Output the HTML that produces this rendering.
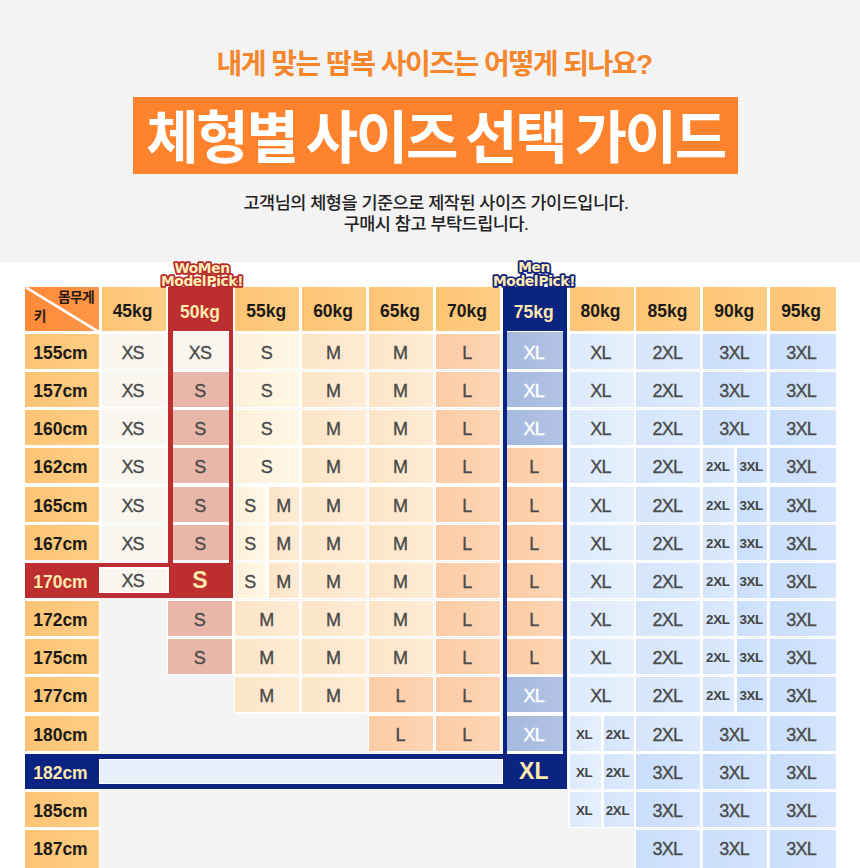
<!DOCTYPE html>
<html lang="ko"><head><meta charset="utf-8"><title>체형별 사이즈 선택 가이드</title>
<style>
html,body{margin:0;padding:0}
body{width:860px;height:868px;overflow:hidden;background:#fff;position:relative;font-family:"Liberation Sans","Noto Sans CJK KR",sans-serif;color:#222}
.top{position:absolute;left:0;top:0;width:860px;height:262px;background:#f3f3f3}
.sub{position:absolute;left:0;top:45px;width:868px;text-align:center;font-size:28px;line-height:40px;font-weight:700;color:#f6862c;letter-spacing:-1.5px}
.ban{position:absolute;left:133px;top:97px;width:605px;height:76.5px;background:#ff832c}
.ttl{position:absolute;left:133px;top:97px;width:605px;height:76.5px;line-height:82px;text-align:center;font-size:57px;font-weight:700;color:#fff;letter-spacing:-2.3px;word-spacing:-4.5px;white-space:nowrap}
.desc{position:absolute;left:0;top:192.5px;width:872px;text-align:center;font-size:17.5px;font-weight:500;line-height:21px;color:#222;letter-spacing:-0.5px}
.c{position:absolute;text-align:center;font-size:18px;letter-spacing:-0.8px;color:#4a4a4a;-webkit-text-stroke:0.35px #4a4a4a;text-indent:-2px;white-space:nowrap;overflow:hidden;box-sizing:border-box}
.gbg{position:absolute;background:#f4f4f4}
.wb{background:#fff}
.h,.lab{background:linear-gradient(90deg,#fdc474,#fecd84);font-weight:700;color:#1c1a18;font-size:17.5px;letter-spacing:0;-webkit-text-stroke:0}
.lab{text-align:left;text-indent:8px}
.corner{position:absolute;background:linear-gradient(90deg,#ff8a38,#ff9648);overflow:hidden}
.corner span{position:absolute;font-weight:700;font-size:13.8px;color:#2a1a10;line-height:14px;letter-spacing:-0.7px}
.cw{right:5px;top:4px} .ch{left:8.5px;top:23.5px}
.xs{background:#f8f6ee}
.sp{background:#e9b6aa}
.s{background:linear-gradient(90deg,#fdf0d9,#fff8e6)}
.m{background:linear-gradient(90deg,#fde4c6,#feecd6)}
.l{background:linear-gradient(90deg,#fdcca5,#fed5b4)}
.xb{background:linear-gradient(90deg,#a5b8df,#b2c3e4);color:#fff;-webkit-text-stroke:0.35px #fff}
.xl{background:linear-gradient(90deg,#dde9fc,#e6f0fd)}
.x2{background:linear-gradient(90deg,#d6e5fc,#ddeafd)}
.x3{background:linear-gradient(90deg,#cadefb,#d4e5fc)}
.sm{font-size:13.3px;font-weight:700;color:#444;letter-spacing:-0.3px;-webkit-text-stroke:0}
.s.sm,.m.sm{font-size:18px;font-weight:400;color:#4a4a4a;letter-spacing:-0.8px;-webkit-text-stroke:0.35px #4a4a4a}
.rf{position:absolute;background:#bd2e30}
.rin{position:absolute;background:#fff}
.rhead,.rlab,.rS,.bhead,.blab,.bX{position:absolute;overflow:hidden;text-indent:-2px;text-align:center;font-weight:700;font-size:17.5px;color:#ffe9ad}
.rrow{position:absolute;background:#bd2e30}
.rlab,.blab{text-align:left;text-indent:8px}
.rS,.bX{font-size:23px}
.bf{position:absolute;background:#0b2381}
.bin{position:absolute;background:#fff}
.brow{position:absolute;background:#0b2381}
.bbox{position:absolute;background:#e8f0fc;border:1.5px solid #fff;box-sizing:border-box}
.badge{position:absolute;text-align:center;font-family:'DejaVu Sans','Liberation Sans',sans-serif;font-weight:700;font-size:13.8px;line-height:12.3px;letter-spacing:-0.4px;word-spacing:-4px;color:#ffedb4;white-space:nowrap}
.bdg{position:absolute;overflow:visible}
</style></head><body>
<div class="top"></div>
<div class="sub">내게 맞는 땀복 사이즈는 어떻게 되나요?</div>
<div class="ban"></div>
<div class="ttl">체형별 사이즈 선택 가이드</div>
<div class="desc">고객님의 체형을 기준으로 제작된 사이즈 가이드입니다.<br>구매시 참고 부탁드립니다.</div>
<div class="gbg" style="left:100.3px;top:332.5px;width:737.2px;height:540px"></div>
<div class="corner" style="left:25.2px;top:286.5px;width:73.8px;height:44.5px">
<svg width="73.8" height="44.5" viewBox="0 0 73.8 44.5" style="position:absolute;left:0;top:0"><line x1="1" y1="0.5" x2="73.8" y2="45" stroke="#fff" stroke-width="2.6"/></svg>
<span class="cw">몸무게</span><span class="ch">키</span></div>
<div class="c h" style="left:101.6px;top:286.5px;width:64.0px;height:44.5px;line-height:48.5px;">45kg</div>
<div class="c h" style="left:235.3px;top:286.5px;width:64.0px;height:44.5px;line-height:48.5px;">55kg</div>
<div class="c h" style="left:302.1px;top:286.5px;width:64.0px;height:44.5px;line-height:48.5px;">60kg</div>
<div class="c h" style="left:369.0px;top:286.5px;width:64.0px;height:44.5px;line-height:48.5px;">65kg</div>
<div class="c h" style="left:435.9px;top:286.5px;width:64.0px;height:44.5px;line-height:48.5px;">70kg</div>
<div class="c h" style="left:569.5px;top:286.5px;width:64.0px;height:44.5px;line-height:48.5px;">80kg</div>
<div class="c h" style="left:636.4px;top:286.5px;width:64.0px;height:44.5px;line-height:48.5px;">85kg</div>
<div class="c h" style="left:703.2px;top:286.5px;width:64.0px;height:44.5px;line-height:48.5px;">90kg</div>
<div class="c h" style="left:770.1px;top:286.5px;width:66.1px;height:44.5px;line-height:48.5px;padding-right:2.1px;">95kg</div>
<div class="c lab" style="left:25.2px;top:334.0px;width:73.8px;height:35.0px;line-height:39.0px;">155cm</div>
<div class="c lab" style="left:25.2px;top:372.1px;width:73.8px;height:35.0px;line-height:39.0px;">157cm</div>
<div class="c lab" style="left:25.2px;top:410.3px;width:73.8px;height:35.0px;line-height:39.0px;">160cm</div>
<div class="c lab" style="left:25.2px;top:448.4px;width:73.8px;height:35.0px;line-height:39.0px;">162cm</div>
<div class="c lab" style="left:25.2px;top:486.6px;width:73.8px;height:35.0px;line-height:39.0px;">165cm</div>
<div class="c lab" style="left:25.2px;top:524.8px;width:73.8px;height:35.0px;line-height:39.0px;">167cm</div>
<div class="c lab" style="left:25.2px;top:601.0px;width:73.8px;height:35.0px;line-height:39.0px;">172cm</div>
<div class="c lab" style="left:25.2px;top:639.2px;width:73.8px;height:35.0px;line-height:39.0px;">175cm</div>
<div class="c lab" style="left:25.2px;top:677.3px;width:73.8px;height:35.0px;line-height:39.0px;">177cm</div>
<div class="c lab" style="left:25.2px;top:715.5px;width:73.8px;height:35.0px;line-height:39.0px;">180cm</div>
<div class="c lab" style="left:25.2px;top:791.8px;width:73.8px;height:35.0px;line-height:39.0px;">185cm</div>
<div class="c lab" style="left:25.2px;top:830.0px;width:73.8px;height:41.0px;line-height:39.0px;">187cm</div>
<div class="rf" style="left:168.4px;top:286.5px;width:65px;height:311.5px"></div>
<div class="rhead" style="left:168.4px;top:286.5px;width:65px;height:44.5px;line-height:50.5px">50kg</div>
<div class="rin" style="left:172.7px;top:331px;width:56.5px;height:232px"></div>
<div class="rrow" style="left:25.2px;top:562.9px;width:208.1px;height:35.1px"></div>
<div class="rlab" style="left:25.2px;top:562.9px;width:73.8px;height:35.1px;line-height:39.1px">170cm</div>
<div class="c wb" style="left:98.6px;top:567.4px;width:70.4px;height:25.8px"></div>
<div class="c xs" style="left:100.1px;top:568.9px;width:67.4px;height:22.8px;line-height:24.6px">XS</div>
<div class="rS" style="left:169px;top:562.9px;width:64px;height:35.1px;line-height:35.1px">S</div>
<div class="bf" style="left:502.6px;top:286.5px;width:64.4px;height:502.5px"></div>
<div class="bhead" style="left:502.6px;top:286.5px;width:64.4px;height:44.5px;line-height:50.5px">75kg</div>
<div class="bin" style="left:506.8px;top:331px;width:56px;height:422.6px"></div>
<div class="brow" style="left:25.2px;top:753.6px;width:541.8px;height:35.4px"></div>
<div class="blab" style="left:25.2px;top:753.6px;width:73.8px;height:35.4px;line-height:39.4px">182cm</div>
<div class="bbox" style="left:98.6px;top:758.8px;width:404.2px;height:25.4px"></div>
<div class="bX" style="left:502.6px;top:753.6px;width:64.4px;height:35.4px;line-height:35.4px">XL</div>
<div class="c wb" style="left:100.3px;top:332.7px;width:66.6px;height:37.6px;line-height:37.6px;"></div>
<div class="c xs" style="left:101.6px;top:334.0px;width:64.0px;height:35.0px;line-height:38.8px;">XS</div>
<div class="c xs" style="left:172.7px;top:332.0px;width:56.5px;height:37.0px;line-height:42.8px;">XS</div>
<div class="c wb" style="left:234.0px;top:332.7px;width:66.6px;height:37.6px;line-height:37.6px;"></div>
<div class="c s" style="left:235.3px;top:334.0px;width:64.0px;height:35.0px;line-height:38.8px;">S</div>
<div class="c wb" style="left:300.8px;top:332.7px;width:66.6px;height:37.6px;line-height:37.6px;"></div>
<div class="c m" style="left:302.1px;top:334.0px;width:64.0px;height:35.0px;line-height:38.8px;">M</div>
<div class="c wb" style="left:367.7px;top:332.7px;width:66.6px;height:37.6px;line-height:37.6px;"></div>
<div class="c m" style="left:369.0px;top:334.0px;width:64.0px;height:35.0px;line-height:38.8px;">M</div>
<div class="c wb" style="left:434.6px;top:332.7px;width:66.6px;height:37.6px;line-height:37.6px;"></div>
<div class="c l" style="left:435.9px;top:334.0px;width:64.0px;height:35.0px;line-height:38.8px;">L</div>
<div class="c xb" style="left:506.8px;top:332.0px;width:56.0px;height:37.0px;line-height:42.8px;">XL</div>
<div class="c wb" style="left:568.2px;top:332.7px;width:66.6px;height:37.6px;line-height:37.6px;"></div>
<div class="c xl" style="left:569.5px;top:334.0px;width:64.0px;height:35.0px;line-height:38.8px;">XL</div>
<div class="c wb" style="left:635.1px;top:332.7px;width:66.6px;height:37.6px;line-height:37.6px;"></div>
<div class="c x2" style="left:636.4px;top:334.0px;width:64.0px;height:35.0px;line-height:38.8px;">2XL</div>
<div class="c wb" style="left:702.0px;top:332.7px;width:66.6px;height:37.6px;line-height:37.6px;"></div>
<div class="c x3" style="left:703.2px;top:334.0px;width:64.0px;height:35.0px;line-height:38.8px;">3XL</div>
<div class="c wb" style="left:768.8px;top:332.7px;width:68.7px;height:37.6px;line-height:37.6px;"></div>
<div class="c x3" style="left:770.1px;top:334.0px;width:66.1px;height:35.0px;line-height:38.8px;padding-right:2.1px;">3XL</div>
<div class="c wb" style="left:100.3px;top:370.8px;width:66.6px;height:37.6px;line-height:37.6px;"></div>
<div class="c xs" style="left:101.6px;top:372.1px;width:64.0px;height:35.0px;line-height:38.8px;">XS</div>
<div class="c sp" style="left:172.7px;top:372.1px;width:56.5px;height:35.0px;line-height:38.8px;">S</div>
<div class="c wb" style="left:234.0px;top:370.8px;width:66.6px;height:37.6px;line-height:37.6px;"></div>
<div class="c s" style="left:235.3px;top:372.1px;width:64.0px;height:35.0px;line-height:38.8px;">S</div>
<div class="c wb" style="left:300.8px;top:370.8px;width:66.6px;height:37.6px;line-height:37.6px;"></div>
<div class="c m" style="left:302.1px;top:372.1px;width:64.0px;height:35.0px;line-height:38.8px;">M</div>
<div class="c wb" style="left:367.7px;top:370.8px;width:66.6px;height:37.6px;line-height:37.6px;"></div>
<div class="c m" style="left:369.0px;top:372.1px;width:64.0px;height:35.0px;line-height:38.8px;">M</div>
<div class="c wb" style="left:434.6px;top:370.8px;width:66.6px;height:37.6px;line-height:37.6px;"></div>
<div class="c l" style="left:435.9px;top:372.1px;width:64.0px;height:35.0px;line-height:38.8px;">L</div>
<div class="c xb" style="left:506.8px;top:372.1px;width:56.0px;height:35.0px;line-height:38.8px;">XL</div>
<div class="c wb" style="left:568.2px;top:370.8px;width:66.6px;height:37.6px;line-height:37.6px;"></div>
<div class="c xl" style="left:569.5px;top:372.1px;width:64.0px;height:35.0px;line-height:38.8px;">XL</div>
<div class="c wb" style="left:635.1px;top:370.8px;width:66.6px;height:37.6px;line-height:37.6px;"></div>
<div class="c x2" style="left:636.4px;top:372.1px;width:64.0px;height:35.0px;line-height:38.8px;">2XL</div>
<div class="c wb" style="left:702.0px;top:370.8px;width:66.6px;height:37.6px;line-height:37.6px;"></div>
<div class="c x3" style="left:703.2px;top:372.1px;width:64.0px;height:35.0px;line-height:38.8px;">3XL</div>
<div class="c wb" style="left:768.8px;top:370.8px;width:68.7px;height:37.6px;line-height:37.6px;"></div>
<div class="c x3" style="left:770.1px;top:372.1px;width:66.1px;height:35.0px;line-height:38.8px;padding-right:2.1px;">3XL</div>
<div class="c wb" style="left:100.3px;top:409.0px;width:66.6px;height:37.6px;line-height:37.6px;"></div>
<div class="c xs" style="left:101.6px;top:410.3px;width:64.0px;height:35.0px;line-height:38.8px;">XS</div>
<div class="c sp" style="left:172.7px;top:410.3px;width:56.5px;height:35.0px;line-height:38.8px;">S</div>
<div class="c wb" style="left:234.0px;top:409.0px;width:66.6px;height:37.6px;line-height:37.6px;"></div>
<div class="c s" style="left:235.3px;top:410.3px;width:64.0px;height:35.0px;line-height:38.8px;">S</div>
<div class="c wb" style="left:300.8px;top:409.0px;width:66.6px;height:37.6px;line-height:37.6px;"></div>
<div class="c m" style="left:302.1px;top:410.3px;width:64.0px;height:35.0px;line-height:38.8px;">M</div>
<div class="c wb" style="left:367.7px;top:409.0px;width:66.6px;height:37.6px;line-height:37.6px;"></div>
<div class="c m" style="left:369.0px;top:410.3px;width:64.0px;height:35.0px;line-height:38.8px;">M</div>
<div class="c wb" style="left:434.6px;top:409.0px;width:66.6px;height:37.6px;line-height:37.6px;"></div>
<div class="c l" style="left:435.9px;top:410.3px;width:64.0px;height:35.0px;line-height:38.8px;">L</div>
<div class="c xb" style="left:506.8px;top:410.3px;width:56.0px;height:35.0px;line-height:38.8px;">XL</div>
<div class="c wb" style="left:568.2px;top:409.0px;width:66.6px;height:37.6px;line-height:37.6px;"></div>
<div class="c xl" style="left:569.5px;top:410.3px;width:64.0px;height:35.0px;line-height:38.8px;">XL</div>
<div class="c wb" style="left:635.1px;top:409.0px;width:66.6px;height:37.6px;line-height:37.6px;"></div>
<div class="c x2" style="left:636.4px;top:410.3px;width:64.0px;height:35.0px;line-height:38.8px;">2XL</div>
<div class="c wb" style="left:702.0px;top:409.0px;width:66.6px;height:37.6px;line-height:37.6px;"></div>
<div class="c x3" style="left:703.2px;top:410.3px;width:64.0px;height:35.0px;line-height:38.8px;">3XL</div>
<div class="c wb" style="left:768.8px;top:409.0px;width:68.7px;height:37.6px;line-height:37.6px;"></div>
<div class="c x3" style="left:770.1px;top:410.3px;width:66.1px;height:35.0px;line-height:38.8px;padding-right:2.1px;">3XL</div>
<div class="c wb" style="left:100.3px;top:447.1px;width:66.6px;height:37.6px;line-height:37.6px;"></div>
<div class="c xs" style="left:101.6px;top:448.4px;width:64.0px;height:35.0px;line-height:38.8px;">XS</div>
<div class="c sp" style="left:172.7px;top:448.4px;width:56.5px;height:35.0px;line-height:38.8px;">S</div>
<div class="c wb" style="left:234.0px;top:447.1px;width:66.6px;height:37.6px;line-height:37.6px;"></div>
<div class="c s" style="left:235.3px;top:448.4px;width:64.0px;height:35.0px;line-height:38.8px;">S</div>
<div class="c wb" style="left:300.8px;top:447.1px;width:66.6px;height:37.6px;line-height:37.6px;"></div>
<div class="c m" style="left:302.1px;top:448.4px;width:64.0px;height:35.0px;line-height:38.8px;">M</div>
<div class="c wb" style="left:367.7px;top:447.1px;width:66.6px;height:37.6px;line-height:37.6px;"></div>
<div class="c m" style="left:369.0px;top:448.4px;width:64.0px;height:35.0px;line-height:38.8px;">M</div>
<div class="c wb" style="left:434.6px;top:447.1px;width:66.6px;height:37.6px;line-height:37.6px;"></div>
<div class="c l" style="left:435.9px;top:448.4px;width:64.0px;height:35.0px;line-height:38.8px;">L</div>
<div class="c l" style="left:506.8px;top:448.4px;width:56.0px;height:35.0px;line-height:38.8px;">L</div>
<div class="c wb" style="left:568.2px;top:447.1px;width:66.6px;height:37.6px;line-height:37.6px;"></div>
<div class="c xl" style="left:569.5px;top:448.4px;width:64.0px;height:35.0px;line-height:38.8px;">XL</div>
<div class="c wb" style="left:635.1px;top:447.1px;width:66.6px;height:37.6px;line-height:37.6px;"></div>
<div class="c x2" style="left:636.4px;top:448.4px;width:64.0px;height:35.0px;line-height:38.8px;">2XL</div>
<div class="c wb" style="left:702.0px;top:447.1px;width:33.8px;height:37.6px;line-height:37.6px;"></div>
<div class="c wb" style="left:736.0px;top:447.1px;width:32.6px;height:37.6px;line-height:37.6px;"></div>
<div class="c x2 sm" style="left:703.2px;top:448.4px;width:31.2px;height:35.0px;line-height:38.8px;">2XL</div>
<div class="c x3 sm" style="left:737.2px;top:448.4px;width:30.0px;height:35.0px;line-height:38.8px;">3XL</div>
<div class="c wb" style="left:768.8px;top:447.1px;width:68.7px;height:37.6px;line-height:37.6px;"></div>
<div class="c x3" style="left:770.1px;top:448.4px;width:66.1px;height:35.0px;line-height:38.8px;padding-right:2.1px;">3XL</div>
<div class="c wb" style="left:100.3px;top:485.3px;width:66.6px;height:37.6px;line-height:37.6px;"></div>
<div class="c xs" style="left:101.6px;top:486.6px;width:64.0px;height:35.0px;line-height:38.8px;">XS</div>
<div class="c sp" style="left:172.7px;top:486.6px;width:56.5px;height:35.0px;line-height:38.8px;">S</div>
<div class="c wb" style="left:234.0px;top:485.3px;width:33.8px;height:37.6px;line-height:37.6px;"></div>
<div class="c wb" style="left:268.0px;top:485.3px;width:32.6px;height:37.6px;line-height:37.6px;"></div>
<div class="c s sm" style="left:235.3px;top:486.6px;width:31.2px;height:35.0px;line-height:38.8px;">S</div>
<div class="c m sm" style="left:269.3px;top:486.6px;width:30.0px;height:35.0px;line-height:38.8px;">M</div>
<div class="c wb" style="left:300.8px;top:485.3px;width:66.6px;height:37.6px;line-height:37.6px;"></div>
<div class="c m" style="left:302.1px;top:486.6px;width:64.0px;height:35.0px;line-height:38.8px;">M</div>
<div class="c wb" style="left:367.7px;top:485.3px;width:66.6px;height:37.6px;line-height:37.6px;"></div>
<div class="c m" style="left:369.0px;top:486.6px;width:64.0px;height:35.0px;line-height:38.8px;">M</div>
<div class="c wb" style="left:434.6px;top:485.3px;width:66.6px;height:37.6px;line-height:37.6px;"></div>
<div class="c l" style="left:435.9px;top:486.6px;width:64.0px;height:35.0px;line-height:38.8px;">L</div>
<div class="c l" style="left:506.8px;top:486.6px;width:56.0px;height:35.0px;line-height:38.8px;">L</div>
<div class="c wb" style="left:568.2px;top:485.3px;width:66.6px;height:37.6px;line-height:37.6px;"></div>
<div class="c xl" style="left:569.5px;top:486.6px;width:64.0px;height:35.0px;line-height:38.8px;">XL</div>
<div class="c wb" style="left:635.1px;top:485.3px;width:66.6px;height:37.6px;line-height:37.6px;"></div>
<div class="c x2" style="left:636.4px;top:486.6px;width:64.0px;height:35.0px;line-height:38.8px;">2XL</div>
<div class="c wb" style="left:702.0px;top:485.3px;width:33.8px;height:37.6px;line-height:37.6px;"></div>
<div class="c wb" style="left:736.0px;top:485.3px;width:32.6px;height:37.6px;line-height:37.6px;"></div>
<div class="c x2 sm" style="left:703.2px;top:486.6px;width:31.2px;height:35.0px;line-height:38.8px;">2XL</div>
<div class="c x3 sm" style="left:737.2px;top:486.6px;width:30.0px;height:35.0px;line-height:38.8px;">3XL</div>
<div class="c wb" style="left:768.8px;top:485.3px;width:68.7px;height:37.6px;line-height:37.6px;"></div>
<div class="c x3" style="left:770.1px;top:486.6px;width:66.1px;height:35.0px;line-height:38.8px;padding-right:2.1px;">3XL</div>
<div class="c wb" style="left:100.3px;top:523.5px;width:66.6px;height:37.6px;line-height:37.6px;"></div>
<div class="c xs" style="left:101.6px;top:524.8px;width:64.0px;height:35.0px;line-height:38.8px;">XS</div>
<div class="c sp" style="left:172.7px;top:524.8px;width:56.5px;height:35.0px;line-height:38.8px;">S</div>
<div class="c wb" style="left:234.0px;top:523.5px;width:33.8px;height:37.6px;line-height:37.6px;"></div>
<div class="c wb" style="left:268.0px;top:523.5px;width:32.6px;height:37.6px;line-height:37.6px;"></div>
<div class="c s sm" style="left:235.3px;top:524.8px;width:31.2px;height:35.0px;line-height:38.8px;">S</div>
<div class="c m sm" style="left:269.3px;top:524.8px;width:30.0px;height:35.0px;line-height:38.8px;">M</div>
<div class="c wb" style="left:300.8px;top:523.5px;width:66.6px;height:37.6px;line-height:37.6px;"></div>
<div class="c m" style="left:302.1px;top:524.8px;width:64.0px;height:35.0px;line-height:38.8px;">M</div>
<div class="c wb" style="left:367.7px;top:523.5px;width:66.6px;height:37.6px;line-height:37.6px;"></div>
<div class="c m" style="left:369.0px;top:524.8px;width:64.0px;height:35.0px;line-height:38.8px;">M</div>
<div class="c wb" style="left:434.6px;top:523.5px;width:66.6px;height:37.6px;line-height:37.6px;"></div>
<div class="c l" style="left:435.9px;top:524.8px;width:64.0px;height:35.0px;line-height:38.8px;">L</div>
<div class="c l" style="left:506.8px;top:524.8px;width:56.0px;height:35.0px;line-height:38.8px;">L</div>
<div class="c wb" style="left:568.2px;top:523.5px;width:66.6px;height:37.6px;line-height:37.6px;"></div>
<div class="c xl" style="left:569.5px;top:524.8px;width:64.0px;height:35.0px;line-height:38.8px;">XL</div>
<div class="c wb" style="left:635.1px;top:523.5px;width:66.6px;height:37.6px;line-height:37.6px;"></div>
<div class="c x2" style="left:636.4px;top:524.8px;width:64.0px;height:35.0px;line-height:38.8px;">2XL</div>
<div class="c wb" style="left:702.0px;top:523.5px;width:33.8px;height:37.6px;line-height:37.6px;"></div>
<div class="c wb" style="left:736.0px;top:523.5px;width:32.6px;height:37.6px;line-height:37.6px;"></div>
<div class="c x2 sm" style="left:703.2px;top:524.8px;width:31.2px;height:35.0px;line-height:38.8px;">2XL</div>
<div class="c x3 sm" style="left:737.2px;top:524.8px;width:30.0px;height:35.0px;line-height:38.8px;">3XL</div>
<div class="c wb" style="left:768.8px;top:523.5px;width:68.7px;height:37.6px;line-height:37.6px;"></div>
<div class="c x3" style="left:770.1px;top:524.8px;width:66.1px;height:35.0px;line-height:38.8px;padding-right:2.1px;">3XL</div>
<div class="c wb" style="left:234.0px;top:561.6px;width:33.8px;height:37.6px;line-height:37.6px;"></div>
<div class="c wb" style="left:268.0px;top:561.6px;width:32.6px;height:37.6px;line-height:37.6px;"></div>
<div class="c s sm" style="left:235.3px;top:562.9px;width:31.2px;height:35.0px;line-height:38.8px;">S</div>
<div class="c m sm" style="left:269.3px;top:562.9px;width:30.0px;height:35.0px;line-height:38.8px;">M</div>
<div class="c wb" style="left:300.8px;top:561.6px;width:66.6px;height:37.6px;line-height:37.6px;"></div>
<div class="c m" style="left:302.1px;top:562.9px;width:64.0px;height:35.0px;line-height:38.8px;">M</div>
<div class="c wb" style="left:367.7px;top:561.6px;width:66.6px;height:37.6px;line-height:37.6px;"></div>
<div class="c m" style="left:369.0px;top:562.9px;width:64.0px;height:35.0px;line-height:38.8px;">M</div>
<div class="c wb" style="left:434.6px;top:561.6px;width:66.6px;height:37.6px;line-height:37.6px;"></div>
<div class="c l" style="left:435.9px;top:562.9px;width:64.0px;height:35.0px;line-height:38.8px;">L</div>
<div class="c l" style="left:506.8px;top:562.9px;width:56.0px;height:35.0px;line-height:38.8px;">L</div>
<div class="c wb" style="left:568.2px;top:561.6px;width:66.6px;height:37.6px;line-height:37.6px;"></div>
<div class="c xl" style="left:569.5px;top:562.9px;width:64.0px;height:35.0px;line-height:38.8px;">XL</div>
<div class="c wb" style="left:635.1px;top:561.6px;width:66.6px;height:37.6px;line-height:37.6px;"></div>
<div class="c x2" style="left:636.4px;top:562.9px;width:64.0px;height:35.0px;line-height:38.8px;">2XL</div>
<div class="c wb" style="left:702.0px;top:561.6px;width:33.8px;height:37.6px;line-height:37.6px;"></div>
<div class="c wb" style="left:736.0px;top:561.6px;width:32.6px;height:37.6px;line-height:37.6px;"></div>
<div class="c x2 sm" style="left:703.2px;top:562.9px;width:31.2px;height:35.0px;line-height:38.8px;">2XL</div>
<div class="c x3 sm" style="left:737.2px;top:562.9px;width:30.0px;height:35.0px;line-height:38.8px;">3XL</div>
<div class="c wb" style="left:768.8px;top:561.6px;width:68.7px;height:37.6px;line-height:37.6px;"></div>
<div class="c x3" style="left:770.1px;top:562.9px;width:66.1px;height:35.0px;line-height:38.8px;padding-right:2.1px;">3XL</div>
<div class="c wb" style="left:167.1px;top:599.8px;width:66.6px;height:37.6px;line-height:37.6px;"></div>
<div class="c sp" style="left:168.4px;top:601.0px;width:64.0px;height:35.0px;line-height:38.8px;">S</div>
<div class="c wb" style="left:234.0px;top:599.8px;width:66.6px;height:37.6px;line-height:37.6px;"></div>
<div class="c m" style="left:235.3px;top:601.0px;width:64.0px;height:35.0px;line-height:38.8px;">M</div>
<div class="c wb" style="left:300.8px;top:599.8px;width:66.6px;height:37.6px;line-height:37.6px;"></div>
<div class="c m" style="left:302.1px;top:601.0px;width:64.0px;height:35.0px;line-height:38.8px;">M</div>
<div class="c wb" style="left:367.7px;top:599.8px;width:66.6px;height:37.6px;line-height:37.6px;"></div>
<div class="c m" style="left:369.0px;top:601.0px;width:64.0px;height:35.0px;line-height:38.8px;">M</div>
<div class="c wb" style="left:434.6px;top:599.8px;width:66.6px;height:37.6px;line-height:37.6px;"></div>
<div class="c l" style="left:435.9px;top:601.0px;width:64.0px;height:35.0px;line-height:38.8px;">L</div>
<div class="c l" style="left:506.8px;top:601.0px;width:56.0px;height:35.0px;line-height:38.8px;">L</div>
<div class="c wb" style="left:568.2px;top:599.8px;width:66.6px;height:37.6px;line-height:37.6px;"></div>
<div class="c xl" style="left:569.5px;top:601.0px;width:64.0px;height:35.0px;line-height:38.8px;">XL</div>
<div class="c wb" style="left:635.1px;top:599.8px;width:66.6px;height:37.6px;line-height:37.6px;"></div>
<div class="c x2" style="left:636.4px;top:601.0px;width:64.0px;height:35.0px;line-height:38.8px;">2XL</div>
<div class="c wb" style="left:702.0px;top:599.8px;width:33.8px;height:37.6px;line-height:37.6px;"></div>
<div class="c wb" style="left:736.0px;top:599.8px;width:32.6px;height:37.6px;line-height:37.6px;"></div>
<div class="c x2 sm" style="left:703.2px;top:601.0px;width:31.2px;height:35.0px;line-height:38.8px;">2XL</div>
<div class="c x3 sm" style="left:737.2px;top:601.0px;width:30.0px;height:35.0px;line-height:38.8px;">3XL</div>
<div class="c wb" style="left:768.8px;top:599.8px;width:68.7px;height:37.6px;line-height:37.6px;"></div>
<div class="c x3" style="left:770.1px;top:601.0px;width:66.1px;height:35.0px;line-height:38.8px;padding-right:2.1px;">3XL</div>
<div class="c wb" style="left:167.1px;top:637.9px;width:66.6px;height:37.6px;line-height:37.6px;"></div>
<div class="c sp" style="left:168.4px;top:639.2px;width:64.0px;height:35.0px;line-height:38.8px;">S</div>
<div class="c wb" style="left:234.0px;top:637.9px;width:66.6px;height:37.6px;line-height:37.6px;"></div>
<div class="c m" style="left:235.3px;top:639.2px;width:64.0px;height:35.0px;line-height:38.8px;">M</div>
<div class="c wb" style="left:300.8px;top:637.9px;width:66.6px;height:37.6px;line-height:37.6px;"></div>
<div class="c m" style="left:302.1px;top:639.2px;width:64.0px;height:35.0px;line-height:38.8px;">M</div>
<div class="c wb" style="left:367.7px;top:637.9px;width:66.6px;height:37.6px;line-height:37.6px;"></div>
<div class="c m" style="left:369.0px;top:639.2px;width:64.0px;height:35.0px;line-height:38.8px;">M</div>
<div class="c wb" style="left:434.6px;top:637.9px;width:66.6px;height:37.6px;line-height:37.6px;"></div>
<div class="c l" style="left:435.9px;top:639.2px;width:64.0px;height:35.0px;line-height:38.8px;">L</div>
<div class="c l" style="left:506.8px;top:639.2px;width:56.0px;height:35.0px;line-height:38.8px;">L</div>
<div class="c wb" style="left:568.2px;top:637.9px;width:66.6px;height:37.6px;line-height:37.6px;"></div>
<div class="c xl" style="left:569.5px;top:639.2px;width:64.0px;height:35.0px;line-height:38.8px;">XL</div>
<div class="c wb" style="left:635.1px;top:637.9px;width:66.6px;height:37.6px;line-height:37.6px;"></div>
<div class="c x2" style="left:636.4px;top:639.2px;width:64.0px;height:35.0px;line-height:38.8px;">2XL</div>
<div class="c wb" style="left:702.0px;top:637.9px;width:33.8px;height:37.6px;line-height:37.6px;"></div>
<div class="c wb" style="left:736.0px;top:637.9px;width:32.6px;height:37.6px;line-height:37.6px;"></div>
<div class="c x2 sm" style="left:703.2px;top:639.2px;width:31.2px;height:35.0px;line-height:38.8px;">2XL</div>
<div class="c x3 sm" style="left:737.2px;top:639.2px;width:30.0px;height:35.0px;line-height:38.8px;">3XL</div>
<div class="c wb" style="left:768.8px;top:637.9px;width:68.7px;height:37.6px;line-height:37.6px;"></div>
<div class="c x3" style="left:770.1px;top:639.2px;width:66.1px;height:35.0px;line-height:38.8px;padding-right:2.1px;">3XL</div>
<div class="c wb" style="left:234.0px;top:676.0px;width:66.6px;height:37.6px;line-height:37.6px;"></div>
<div class="c m" style="left:235.3px;top:677.3px;width:64.0px;height:35.0px;line-height:38.8px;">M</div>
<div class="c wb" style="left:300.8px;top:676.0px;width:66.6px;height:37.6px;line-height:37.6px;"></div>
<div class="c m" style="left:302.1px;top:677.3px;width:64.0px;height:35.0px;line-height:38.8px;">M</div>
<div class="c wb" style="left:367.7px;top:676.0px;width:66.6px;height:37.6px;line-height:37.6px;"></div>
<div class="c l" style="left:369.0px;top:677.3px;width:64.0px;height:35.0px;line-height:38.8px;">L</div>
<div class="c wb" style="left:434.6px;top:676.0px;width:66.6px;height:37.6px;line-height:37.6px;"></div>
<div class="c l" style="left:435.9px;top:677.3px;width:64.0px;height:35.0px;line-height:38.8px;">L</div>
<div class="c xb" style="left:506.8px;top:677.3px;width:56.0px;height:35.0px;line-height:38.8px;">XL</div>
<div class="c wb" style="left:568.2px;top:676.0px;width:66.6px;height:37.6px;line-height:37.6px;"></div>
<div class="c xl" style="left:569.5px;top:677.3px;width:64.0px;height:35.0px;line-height:38.8px;">XL</div>
<div class="c wb" style="left:635.1px;top:676.0px;width:66.6px;height:37.6px;line-height:37.6px;"></div>
<div class="c x2" style="left:636.4px;top:677.3px;width:64.0px;height:35.0px;line-height:38.8px;">2XL</div>
<div class="c wb" style="left:702.0px;top:676.0px;width:33.8px;height:37.6px;line-height:37.6px;"></div>
<div class="c wb" style="left:736.0px;top:676.0px;width:32.6px;height:37.6px;line-height:37.6px;"></div>
<div class="c x2 sm" style="left:703.2px;top:677.3px;width:31.2px;height:35.0px;line-height:38.8px;">2XL</div>
<div class="c x3 sm" style="left:737.2px;top:677.3px;width:30.0px;height:35.0px;line-height:38.8px;">3XL</div>
<div class="c wb" style="left:768.8px;top:676.0px;width:68.7px;height:37.6px;line-height:37.6px;"></div>
<div class="c x3" style="left:770.1px;top:677.3px;width:66.1px;height:35.0px;line-height:38.8px;padding-right:2.1px;">3XL</div>
<div class="c wb" style="left:367.7px;top:714.2px;width:66.6px;height:37.6px;line-height:37.6px;"></div>
<div class="c l" style="left:369.0px;top:715.5px;width:64.0px;height:35.0px;line-height:38.8px;">L</div>
<div class="c wb" style="left:434.6px;top:714.2px;width:66.6px;height:37.6px;line-height:37.6px;"></div>
<div class="c l" style="left:435.9px;top:715.5px;width:64.0px;height:35.0px;line-height:38.8px;">L</div>
<div class="c xb" style="left:506.8px;top:715.5px;width:56.0px;height:35.0px;line-height:38.8px;">XL</div>
<div class="c wb" style="left:568.2px;top:714.2px;width:33.8px;height:37.6px;line-height:37.6px;"></div>
<div class="c wb" style="left:602.2px;top:714.2px;width:32.6px;height:37.6px;line-height:37.6px;"></div>
<div class="c xl sm" style="left:569.5px;top:715.5px;width:31.2px;height:35.0px;line-height:38.8px;">XL</div>
<div class="c x2 sm" style="left:603.5px;top:715.5px;width:30.0px;height:35.0px;line-height:38.8px;">2XL</div>
<div class="c wb" style="left:635.1px;top:714.2px;width:66.6px;height:37.6px;line-height:37.6px;"></div>
<div class="c x2" style="left:636.4px;top:715.5px;width:64.0px;height:35.0px;line-height:38.8px;">2XL</div>
<div class="c wb" style="left:702.0px;top:714.2px;width:66.6px;height:37.6px;line-height:37.6px;"></div>
<div class="c x3" style="left:703.2px;top:715.5px;width:64.0px;height:35.0px;line-height:38.8px;">3XL</div>
<div class="c wb" style="left:768.8px;top:714.2px;width:68.7px;height:37.6px;line-height:37.6px;"></div>
<div class="c x3" style="left:770.1px;top:715.5px;width:66.1px;height:35.0px;line-height:38.8px;padding-right:2.1px;">3XL</div>
<div class="c wb" style="left:568.2px;top:752.4px;width:33.8px;height:37.6px;line-height:37.6px;"></div>
<div class="c wb" style="left:602.2px;top:752.4px;width:32.6px;height:37.6px;line-height:37.6px;"></div>
<div class="c xl sm" style="left:569.5px;top:753.6px;width:31.2px;height:35.0px;line-height:38.8px;">XL</div>
<div class="c x2 sm" style="left:603.5px;top:753.6px;width:30.0px;height:35.0px;line-height:38.8px;">2XL</div>
<div class="c wb" style="left:635.1px;top:752.4px;width:66.6px;height:37.6px;line-height:37.6px;"></div>
<div class="c x3" style="left:636.4px;top:753.6px;width:64.0px;height:35.0px;line-height:38.8px;">3XL</div>
<div class="c wb" style="left:702.0px;top:752.4px;width:66.6px;height:37.6px;line-height:37.6px;"></div>
<div class="c x3" style="left:703.2px;top:753.6px;width:64.0px;height:35.0px;line-height:38.8px;">3XL</div>
<div class="c wb" style="left:768.8px;top:752.4px;width:68.7px;height:37.6px;line-height:37.6px;"></div>
<div class="c x3" style="left:770.1px;top:753.6px;width:66.1px;height:35.0px;line-height:38.8px;padding-right:2.1px;">3XL</div>
<div class="c wb" style="left:568.2px;top:790.5px;width:33.8px;height:37.6px;line-height:37.6px;"></div>
<div class="c wb" style="left:602.2px;top:790.5px;width:32.6px;height:37.6px;line-height:37.6px;"></div>
<div class="c xl sm" style="left:569.5px;top:791.8px;width:31.2px;height:35.0px;line-height:38.8px;">XL</div>
<div class="c x2 sm" style="left:603.5px;top:791.8px;width:30.0px;height:35.0px;line-height:38.8px;">2XL</div>
<div class="c wb" style="left:635.1px;top:790.5px;width:66.6px;height:37.6px;line-height:37.6px;"></div>
<div class="c x3" style="left:636.4px;top:791.8px;width:64.0px;height:35.0px;line-height:38.8px;">3XL</div>
<div class="c wb" style="left:702.0px;top:790.5px;width:66.6px;height:37.6px;line-height:37.6px;"></div>
<div class="c x3" style="left:703.2px;top:791.8px;width:64.0px;height:35.0px;line-height:38.8px;">3XL</div>
<div class="c wb" style="left:768.8px;top:790.5px;width:68.7px;height:37.6px;line-height:37.6px;"></div>
<div class="c x3" style="left:770.1px;top:791.8px;width:66.1px;height:35.0px;line-height:38.8px;padding-right:2.1px;">3XL</div>
<div class="c wb" style="left:635.1px;top:828.7px;width:66.6px;height:43.6px;line-height:37.6px;"></div>
<div class="c x3" style="left:636.4px;top:830.0px;width:64.0px;height:41.0px;line-height:38.8px;">3XL</div>
<div class="c wb" style="left:702.0px;top:828.7px;width:66.6px;height:43.6px;line-height:37.6px;"></div>
<div class="c x3" style="left:703.2px;top:830.0px;width:64.0px;height:41.0px;line-height:38.8px;">3XL</div>
<div class="c wb" style="left:768.8px;top:828.7px;width:68.7px;height:43.6px;line-height:37.6px;"></div>
<div class="c x3" style="left:770.1px;top:830.0px;width:66.1px;height:41.0px;line-height:38.8px;padding-right:2.1px;">3XL</div>
<svg class="bdg" style="left:141.9px;top:260.0px" width="120" height="34" viewBox="0 0 120 34"><g font-family="'DejaVu Sans','Liberation Sans',sans-serif" font-weight="700" font-size="13.8" letter-spacing="-0.4" word-spacing="-4" text-anchor="middle" fill="#ffedb4" stroke="#b82a2c" stroke-width="3.6" stroke-linejoin="round" paint-order="stroke fill"><text x="60" y="13.0">WoMen</text><text x="60" y="26.1">Model Pick!</text></g></svg>
<svg class="bdg" style="left:474.2px;top:260.0px" width="120" height="34" viewBox="0 0 120 34"><g font-family="'DejaVu Sans','Liberation Sans',sans-serif" font-weight="700" font-size="13.8" letter-spacing="-0.4" word-spacing="-4" text-anchor="middle" fill="#ffedb4" stroke="#12237f" stroke-width="3.6" stroke-linejoin="round" paint-order="stroke fill"><text x="60" y="12.2">Men</text><text x="60" y="26.1">Model Pick!</text></g></svg>
</body></html>
